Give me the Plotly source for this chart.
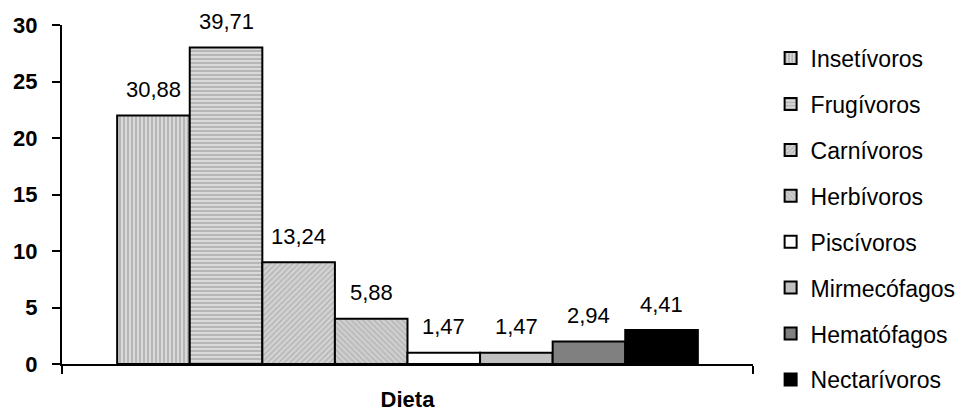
import plotly.graph_objects as go

# Diet categories, number of species (bar height) and share in percent (label)
categories = ["Insetívoros", "Frugívoros", "Carnívoros", "Herbívoros",
              "Piscívoros", "Mirmecófagos", "Hematófagos", "Nectarívoros"]
counts = [22, 28, 9, 4, 1, 1, 2, 3]
percent_labels = ["30,88", "39,71", "13,24", "5,88", "1,47", "1,47", "2,94", "4,41"]
y_ticks = [0, 5, 10, 15, 20, 25, 30]

# Fill style per diet: (background colour, pattern shape, pattern colour)
fills = [
    ("#d9d9d9", "|", "#8c8c8c"),
    ("#d9d9d9", "-", "#8c8c8c"),
    ("#d4d4d4", "/", "#9a9a9a"),
    ("#d0d0d0", "\\", "#a0a0a0"),
    ("#ffffff", "", "#ffffff"),
    ("#c0c0c0", "", "#c0c0c0"),
    ("#808080", "", "#808080"),
    ("#000000", "", "#000000"),
]

FONT = "Liberation Sans, Arial, sans-serif"
FS = 22

fig = go.Figure()
for i, (name, value) in enumerate(zip(categories, counts)):
    bg, shape, fg = fills[i]
    fig.add_trace(go.Bar(
        x=[i], y=[value], name=name, width=1.0,
        legendgroup=name,
        marker=dict(
            color=bg,
            line=dict(color="black", width=2),
            pattern=dict(shape=shape, fgcolor=fg, bgcolor=bg,
                         size=4, solidity=0.45),
        ),
        hoverinfo="skip",
    ))
    fig.add_annotation(
        x=i, y=value, text=percent_labels[i], showarrow=False,
        xref="x", yref="y", yanchor="middle", yshift=26,
        font=dict(family=FONT, size=FS, color="black"),
    )

x_lo, x_hi = -1.26, len(categories) - 1 + 1.26
fig.update_layout(
    width=963, height=412,
    margin=dict(l=62, r=210, t=25, b=48, autoexpand=False),
    paper_bgcolor="white", plot_bgcolor="white",
    barmode="overlay",
    font=dict(family=FONT, size=FS, color="black"),
    showlegend=True,
    legend=dict(
        x=1.0255, xanchor="left", y=0.911, yanchor="top", yref="container",
        maxheight=400,
        font=dict(family=FONT, size=23, color="black"),
        tracegroupgap=13, traceorder="grouped",
        itemwidth=30, bgcolor="rgba(0,0,0,0)",
    ),
    xaxis=dict(
        range=[x_lo, x_hi], tickvals=[x_lo, x_hi], ticktext=["", ""],
        ticks="outside", ticklen=8, tickwidth=2, tickcolor="black",
        showline=True, linecolor="black", linewidth=2,
        showgrid=False, zeroline=False, fixedrange=True, automargin=False,
        title=dict(text="<b>Dieta</b>", standoff=21,
                   font=dict(family=FONT, size=FS, color="black")),
    ),
    yaxis=dict(
        range=[0, 30], tickvals=y_ticks,
        ticks="outside", ticklen=8, tickwidth=2, tickcolor="black",
        ticklabelstandoff=10, automargin=False,
        tickfont=dict(family=FONT, size=FS, color="black", weight="bold"),
        showline=True, linecolor="black", linewidth=2,
        showgrid=False, zeroline=False, fixedrange=True,
    ),
)

fig.write_html("out.html")
